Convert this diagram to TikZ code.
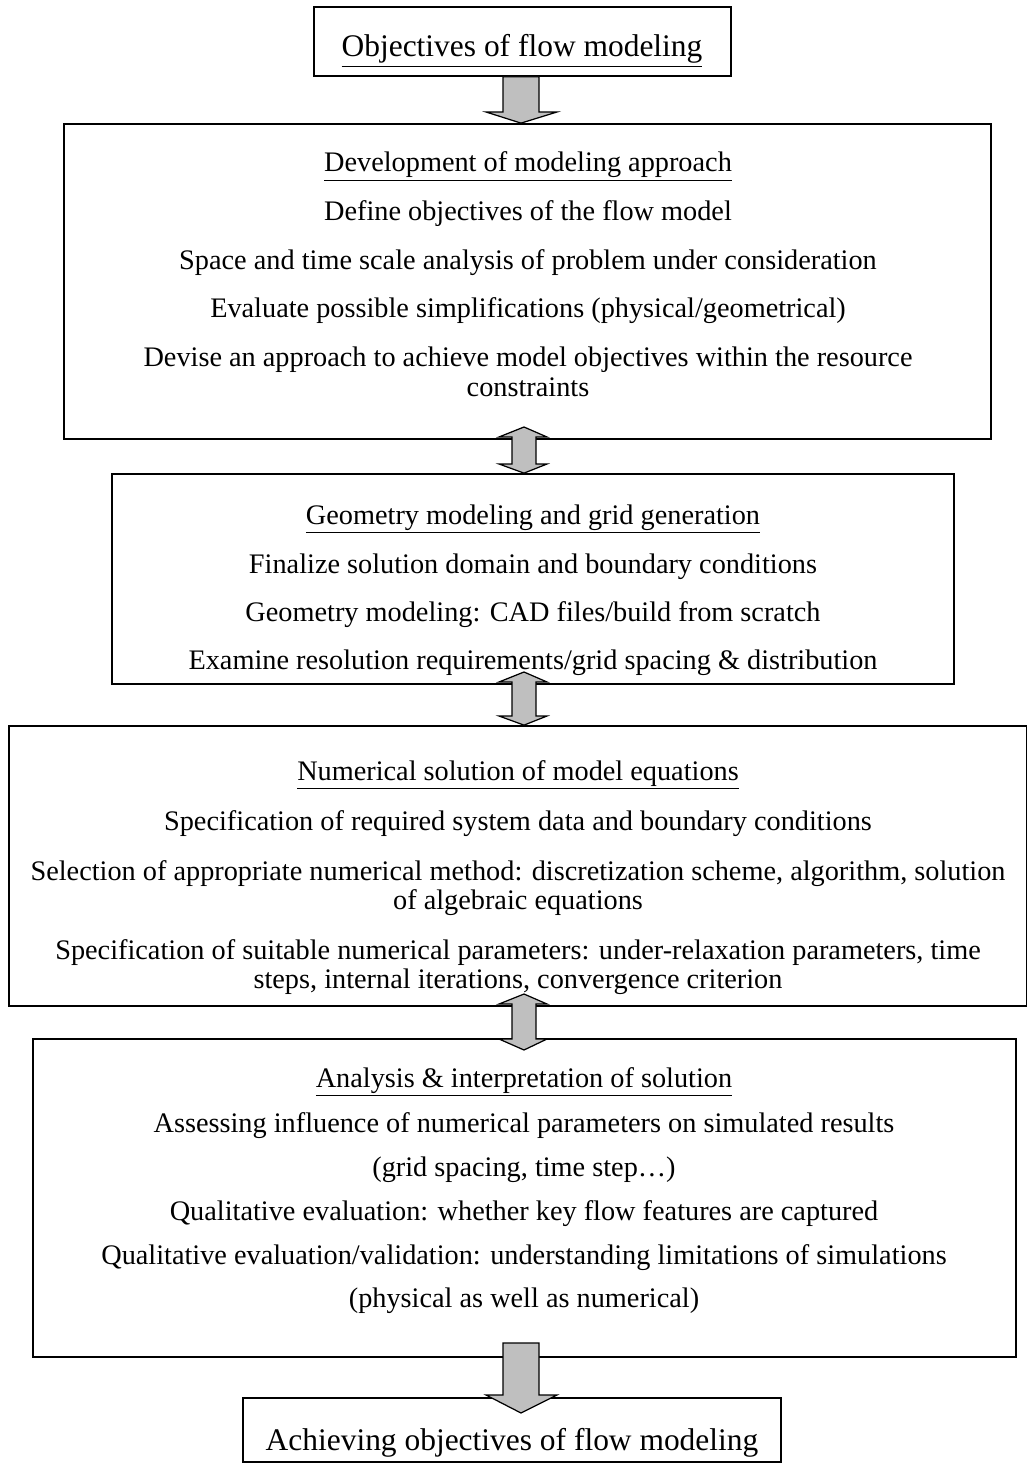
\documentclass[tikz,border=0pt]{standalone}
\usepackage{fontspec}
\setmainfont{Liberation Serif}
\usetikzlibrary{calc,fit}
\tikzset{
  box/.style={draw, line width=1pt, inner sep=0pt},
  blockarrow/.style={draw, line width=0.7pt, fill=black!25, line join=miter},
  lbl/.style={anchor=base, inner sep=0pt, font=\fontsize{16.1}{19}\selectfont},
  bigl/.style={anchor=base, inner sep=0pt, font=\fontsize{17.9}{21}\selectfont}
}

\begin{document}
\begin{tikzpicture}[x=0.02cm, y=-0.02cm]
  \useasboundingbox (0,0) rectangle (1027,1463);
  % boxes
  \node[box, fit={(314,7) (731,76)}] (obj) {};
  \node[box, fit={(64,124) (991,439)}] (dev) {};
  \node[box, fit={(112,474) (954,684)}] (geo) {};
  \node[box, fit={(9,726) (1027,1006)}] (num) {};
  \node[box, fit={(33,1039) (1016,1357)}] (ana) {};
  \node[box, fit={(243,1398) (781,1462)}] (ach) {};

  % texts
  \node[bigl] (objt) at (522,57) {\underline{Objectives of flow modeling}};

  \node[lbl] (dev0) at (528,172) {\underline{Development of modeling approach}};
  \node[lbl] (dev1) at (528,220) {Define objectives of the flow model};
  \node[lbl] (dev2) at (528,269) {Space and time scale analysis of problem under consideration};
  \node[lbl] (dev3) at (528,317) {Evaluate possible simplifications (physical/geometrical)};
  \node[lbl] (dev4) at (528,366) {Devise an approach to achieve model objectives within the resource};
  \node[lbl] (dev5) at (528,396) {constraints};

  \node[lbl] (geo0) at (533,524) {\underline{Geometry modeling and grid generation}};
  \node[lbl] (geo1) at (533,573) {Finalize solution domain and boundary conditions};
  \node[lbl] (geo2) at (533,621) {Geometry modeling: CAD files/build from scratch};
  \node[lbl] (geo3) at (533,669) {Examine resolution requirements/grid spacing \& distribution};

  \node[lbl] (num0) at (518,780) {\underline{Numerical solution of model equations}};
  \node[lbl] (num1) at (518,830) {Specification of required system data and boundary conditions};
  \node[lbl] (num2) at (518,880) {Selection of appropriate numerical method: discretization scheme, algorithm, solution};
  \node[lbl] (num3) at (518,909) {of algebraic equations};
  \node[lbl] (num4) at (518,959) {Specification of suitable numerical parameters: under-relaxation parameters, time};
  \node[lbl] (num5) at (518,988) {steps, internal iterations, convergence criterion};

  \node[lbl] (ana0) at (524,1087) {\underline{Analysis \& interpretation of solution}};
  \node[lbl] (ana1) at (524,1132) {Assessing influence of numerical parameters on simulated results};
  \node[lbl] (ana2) at (524,1176) {(grid spacing, time step…)};
  \node[lbl] (ana3) at (524,1220) {Qualitative evaluation: whether key flow features are captured};
  \node[lbl] (ana4) at (524,1264) {Qualitative evaluation/validation: understanding limitations of simulations};
  \node[lbl] (ana5) at (524,1307) {(physical as well as numerical)};

  \node[bigl] (acht) at (512,1450) {Achieving objectives of flow modeling};

  % arrows
  \draw[blockarrow] (503,0 |- obj.south) -- (503,112) -- (486,112) -- (521,0 |- dev.north)
    -- (557,112) -- (539,112) -- (539,0 |- obj.south) -- cycle;
  \draw[blockarrow] (524,427) -- (547,437) -- (536,437) -- (536,464) -- (547,464) -- (524,0 |- geo.north)
    -- (499,464) -- (512,464) -- (512,437) -- (499,437) -- cycle;
  \draw[blockarrow] (524,672) -- (547,682) -- (536,682) -- (536,716) -- (547,716) -- (524,0 |- num.north)
    -- (499,716) -- (512,716) -- (512,682) -- (499,682) -- cycle;
  \draw[blockarrow] (524,994) -- (547,1004) -- (536,1004) -- (536,1039) -- (547,1039) -- (524,1050)
    -- (499,1039) -- (512,1039) -- (512,1004) -- (499,1004) -- cycle;
  \draw[blockarrow] (503,1343) -- (503,1395) -- (486,1395) -- (521,1413)
    -- (557,1395) -- (539,1395) -- (539,1343) -- cycle;
\end{tikzpicture}
\end{document}
